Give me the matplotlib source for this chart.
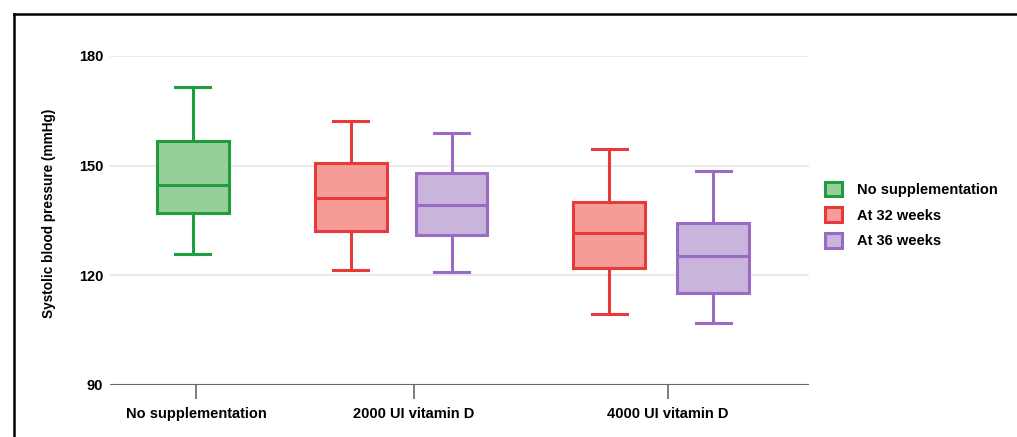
import matplotlib.pyplot as plt
from matplotlib.patches import Patch
from matplotlib.lines import Line2D

plt.rcParams['font.family'] = ['Liberation Sans', 'DejaVu Sans']
plt.rcParams['font.weight'] = 'bold'

# Data (mmHg)
groups = ["No supplementation", "2000 UI vitamin D", "4000 UI vitamin D"]
series = ["No supplementation", "At 32 weeks", "At 36 weeks"]
box_series = ["No supplementation", "At 32 weeks", "At 36 weeks", "At 32 weeks", "At 36 weeks"]
whisker_low = [125.8, 121.5, 120.9, 109.3, 106.9]
q1 = [137.0, 132.0, 130.9, 121.9, 115.2]
median = [144.6, 141.2, 139.2, 131.5, 125.3]
q3 = [156.8, 150.6, 147.9, 140.0, 134.2]
whisker_high = [171.4, 162.2, 158.8, 154.6, 148.5]

# Layout
box_pos = [0.83, 2.41, 3.42, 5.00, 6.04]
group_ticks = [0.86, 3.04, 5.59]
edge_colors = {"No supplementation": "#1e9e3c", "At 32 weeks": "#e8393b", "At 36 weeks": "#9a6bc5"}
fill_colors = {"No supplementation": "#97cf9b", "At 32 weeks": "#f59c99", "At 36 weeks": "#c9b4db"}

fig = plt.figure(figsize=(10.17, 4.37), dpi=100)
ax = fig.add_axes([110 / 1017, 52 / 437, 699 / 1017, 329 / 437])

stats = []
for i in range(len(box_series)):
    stats.append({"whislo": whisker_low[i], "q1": q1[i], "med": median[i],
                  "q3": q3[i], "whishi": whisker_high[i]})

lw = 2.2
for i, st in enumerate(stats):
    ec = edge_colors[box_series[i]]
    fc = fill_colors[box_series[i]]
    ax.bxp([st], positions=[box_pos[i]], widths=0.72, capwidths=0.35,
           showfliers=False, patch_artist=True,
           boxprops=dict(facecolor=fc, edgecolor=ec, linewidth=lw),
           medianprops=dict(color=ec, linewidth=lw),
           whiskerprops=dict(color=ec, linewidth=lw),
           capprops=dict(color=ec, linewidth=lw), zorder=3)

ax.set_xlim(0, 7)
ax.set_ylim(90, 180)
ax.set_yticks([90, 120, 150, 180])
ax.set_xticks(group_ticks)
ax.set_xticklabels(groups, fontsize=10.5, fontweight='bold')
ax.tick_params(axis='y', length=0, pad=5, labelsize=10.5)
ax.tick_params(axis='x', length=10, width=1.2, color='#666666', pad=6)
for lbl in ax.get_yticklabels():
    lbl.set_fontweight('bold')

ax.grid(axis='y', color='#ebebeb', linewidth=1.5, zorder=0)
ax.axhline(90, color='#666666', linewidth=1.5, zorder=2)
for s in ['top', 'right', 'left', 'bottom']:
    ax.spines[s].set_visible(False)
ax.set_axisbelow(True)

fig.text(49 / 1017, 1 - 213 / 437, "Systolic blood pressure (mmHg)", rotation=90,
         fontsize=9.8, fontweight='bold', ha='center', va='center')

handles = [Patch(facecolor=fill_colors[s], edgecolor=edge_colors[s], linewidth=2.2, label=s)
           for s in series]
fig.legend(handles=handles, loc='center left', bbox_to_anchor=(818 / 1017, 1 - 215 / 437),
           frameon=False, handlelength=1.15, handleheight=1.15,
           handletextpad=1.05, labelspacing=0.72, borderpad=0,
           prop={'weight': 'bold', 'size': 10.5})

# partial frame around the figure
fig.add_artist(Line2D([14 / 1017, 1.0], [1 - 14 / 437, 1 - 14 / 437], color='black', linewidth=1.8,
                      transform=fig.transFigure))
fig.add_artist(Line2D([14 / 1017, 14 / 1017], [0, 1 - 14 / 437], color='black', linewidth=1.8,
                      transform=fig.transFigure))

fig.savefig("out.png", dpi=100)
